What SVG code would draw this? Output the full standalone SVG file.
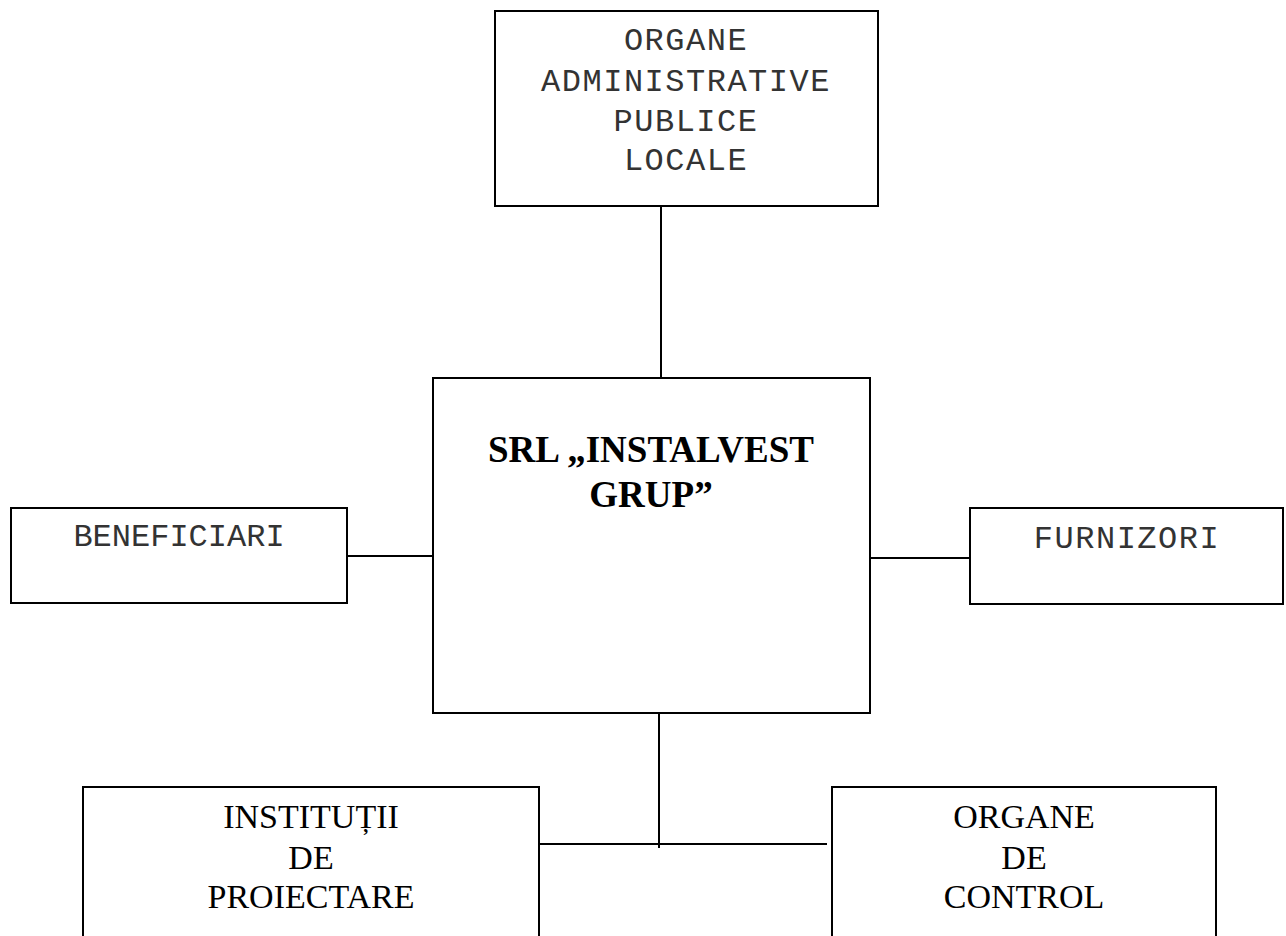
<svg xmlns="http://www.w3.org/2000/svg" width="1286" height="936" viewBox="0 0 1286 936">
<style>
.box{fill:#fff;stroke:#000;stroke-width:2}
.ln{stroke:#000;stroke-width:2;fill:none}
.mono{font-family:"Liberation Mono","Courier New",monospace;font-size:32px;fill:#333;text-anchor:middle}
.ser{font-family:"Liberation Serif","Times New Roman",serif;font-size:34px;fill:#000;text-anchor:middle}
.bold{font-family:"Liberation Serif","Times New Roman",serif;font-size:37px;font-weight:bold;fill:#000;text-anchor:middle}
</style>
<rect width="1286" height="936" fill="#fff"/>
<g id="connectors">
<line class="ln" x1="661" y1="206" x2="661" y2="378"/>
<line class="ln" x1="347" y1="556" x2="433" y2="556"/>
<line class="ln" x1="870" y1="558" x2="970" y2="558"/>
<line class="ln" x1="659" y1="713" x2="659" y2="848"/>
<line class="ln" x1="539" y1="844" x2="827" y2="844"/>
</g>
<g id="node-top">
<rect class="box" x="495" y="11" width="383" height="195"/>
<text class="mono" x="686" y="50" letter-spacing="1.5">ORGANE</text>
<text class="mono" x="686" y="91" letter-spacing="1.5">ADMINISTRATIVE</text>
<text class="mono" x="686" y="131" letter-spacing="1.5">PUBLICE</text>
<text class="mono" x="686" y="170" letter-spacing="1.5">LOCALE</text>
</g>
<g id="node-center">
<rect class="box" x="433" y="378" width="437" height="335"/>
<text class="bold" x="651" y="462">SRL „INSTALVEST</text>
<text class="bold" x="651" y="507">GRUP”</text>
</g>
<g id="node-beneficiari">
<rect class="box" x="11" y="508" width="336" height="95"/>
<text class="mono" x="179" y="546">BENEFICIARI</text>
</g>
<g id="node-furnizori">
<rect class="box" x="970" y="508" width="313" height="96"/>
<text class="mono" x="1127" y="548" letter-spacing="1.5">FURNIZORI</text>
</g>
<g id="node-institutii">
<rect class="box" x="83" y="787" width="456" height="170"/>
<text class="ser" x="311" y="828">INSTITUȚII</text>
<text class="ser" x="311" y="869">DE</text>
<text class="ser" x="311" y="908">PROIECTARE</text>
</g>
<g id="node-control">
<rect class="box" x="832" y="787" width="384" height="170"/>
<text class="ser" x="1024" y="828">ORGANE</text>
<text class="ser" x="1024" y="869">DE</text>
<text class="ser" x="1024" y="908">CONTROL</text>
</g>
</svg>
